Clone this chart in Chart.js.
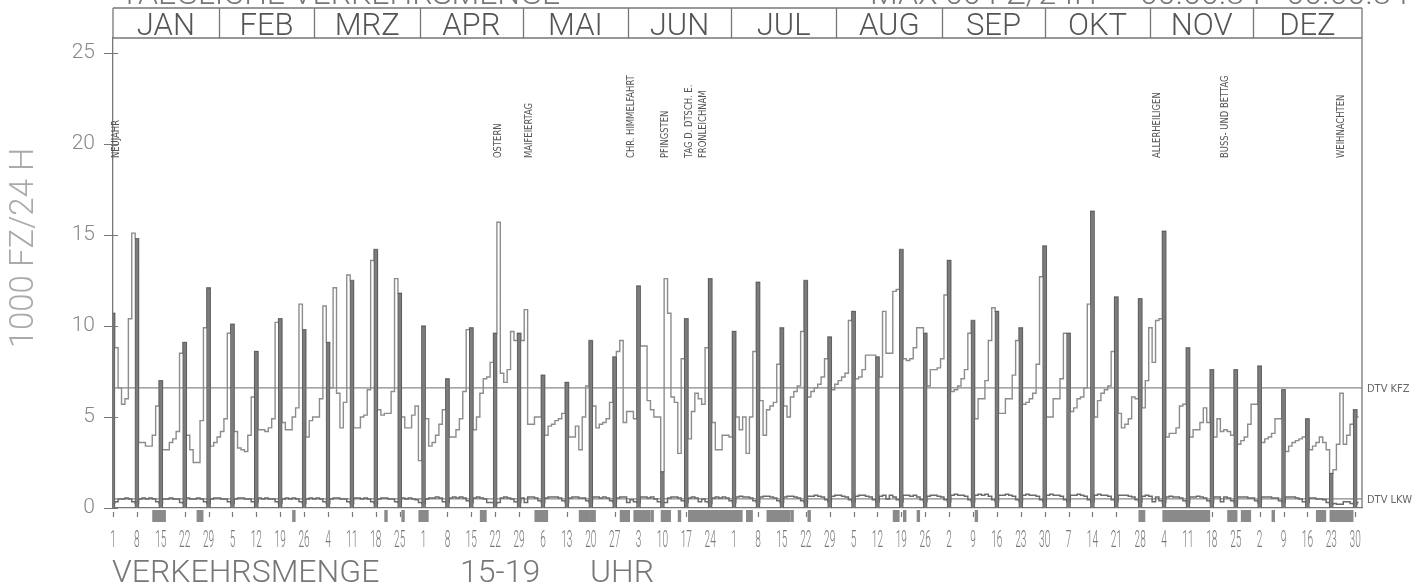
<!DOCTYPE html>
<html>
<head>
<meta charset="utf-8">
<script src="https://cdn.jsdelivr.net/npm/chart.js@4"></script>
<style>
  html, body { margin: 0; background: #fff; }
  canvas { display: block; }
</style>
</head>
<body>
<canvas id="chart" width="1414" height="584"></canvas>
<script>
// Daily traffic 1984, 15-19 h, in 1000 vehicles. Day 0 = Sunday, 1 Jan.
const kfzJan = [10.7, 8.8, 6.6, 5.7, 6.0, 10.4, 15.1, 14.8, 3.6, 3.6, 3.4, 3.4, 4.0, 5.6, 7.0, 3.2, 3.2, 3.6, 3.8, 4.2, 8.5, 9.1, 4.0, 3.2, 2.5, 2.5, 4.8, 9.9, 12.1, 3.4, 3.6];
const kfzFeb = [3.9, 4.2, 4.9, 9.6, 10.1, 4.2, 3.3, 3.2, 3.1, 4.0, 6.1, 8.6, 4.3, 4.3, 4.2, 4.4, 4.9, 10.2, 10.4, 4.7, 4.3, 4.3, 5.0, 5.5, 11.2, 9.8, 3.9, 4.8, 5.0];
const kfzMar = [5.0, 6.0, 11.1, 9.1, 6.6, 12.1, 6.3, 4.4, 5.8, 12.8, 12.5, 4.4, 4.4, 5.0, 5.1, 6.5, 13.6, 14.2, 5.4, 5.1, 5.2, 5.2, 6.4, 12.6, 11.8, 5.0, 4.4, 4.4, 5.1, 5.6, 2.6];
const kfzApr = [10.0, 4.9, 3.4, 3.6, 4.0, 4.6, 5.4, 7.1, 3.9, 3.9, 4.3, 4.9, 6.4, 9.8, 9.9, 4.3, 5.0, 6.3, 7.1, 7.2, 8.0, 9.6, 15.7, 7.4, 6.9, 7.6, 9.7, 9.2, 9.6, 9.2];
const kfzMai = [10.9, 4.6, 4.6, 5.0, 5.0, 7.3, 4.0, 4.5, 4.6, 4.8, 4.9, 5.2, 6.9, 3.9, 3.9, 4.5, 3.2, 5.0, 6.7, 9.2, 5.6, 4.4, 4.6, 4.7, 4.9, 5.8, 8.3, 8.6, 9.2, 4.7, 5.3];
const kfzJun = [5.3, 4.9, 12.2, 8.9, 8.9, 5.9, 5.4, 5.0, 5.0, 2.0, 12.6, 10.7, 6.1, 5.8, 3.0, 8.2, 10.4, 3.8, 5.3, 6.3, 6.0, 5.7, 8.8, 12.6, 4.7, 3.2, 3.2, 4.0, 4.0, 3.9];
const kfzJul = [9.7, 5.0, 4.3, 5.0, 3.0, 5.0, 8.6, 12.4, 5.9, 4.0, 5.4, 5.6, 5.8, 7.9, 9.9, 5.6, 5.0, 6.1, 6.4, 6.7, 9.7, 12.5, 6.1, 6.4, 6.6, 6.8, 7.2, 8.2, 9.4, 6.5, 6.8];
const kfzAug = [7.0, 7.2, 7.4, 10.3, 10.8, 7.1, 7.2, 7.6, 8.4, 8.4, 8.4, 8.3, 7.2, 10.8, 8.5, 8.5, 11.9, 12.0, 14.2, 8.2, 8.1, 8.2, 8.8, 9.9, 9.9, 9.6, 6.7, 7.6, 7.6, 7.7, 8.2];
const kfzSep = [11.7, 13.6, 6.4, 6.5, 6.7, 7.1, 7.6, 9.6, 10.3, 4.9, 6.0, 6.0, 7.0, 9.2, 11.0, 10.8, 5.2, 5.2, 6.0, 6.0, 7.3, 9.2, 9.9, 5.7, 5.8, 6.0, 6.3, 7.9, 12.7, 14.4];
const kfzOkt = [5.0, 5.0, 6.0, 6.0, 7.1, 9.6, 9.6, 5.3, 5.5, 6.0, 6.1, 6.6, 11.2, 16.3, 5.0, 5.9, 6.3, 6.5, 6.7, 8.6, 11.6, 5.2, 4.4, 4.6, 4.9, 6.1, 6.0, 11.5, 5.5, 7.0, 9.9];
const kfzNov = [8.0, 10.3, 10.4, 15.2, 3.9, 4.1, 4.1, 4.4, 5.6, 5.7, 8.8, 3.9, 4.3, 4.3, 4.7, 5.5, 4.7, 7.6, 3.9, 4.9, 4.2, 4.3, 4.2, 4.0, 7.6, 3.5, 3.7, 3.9, 4.6, 5.7];
const kfzDez = [5.7, 7.8, 3.6, 3.8, 3.9, 4.1, 4.9, 4.9, 6.5, 3.1, 3.4, 3.6, 3.7, 3.8, 3.9, 4.9, 3.2, 3.4, 3.6, 3.9, 3.6, 3.2, 1.9, 2.1, 3.5, 6.3, 3.5, 4.0, 4.6, 5.4, 5.0];

const lkwJan = [0.25, 0.35, 0.5, 0.5, 0.55, 0.5, 0.35, 0.25, 0.5, 0.55, 0.5, 0.55, 0.5, 0.35, 0.25, 0.5, 0.5, 0.55, 0.5, 0.5, 0.3, 0.25, 0.55, 0.5, 0.5, 0.55, 0.5, 0.35, 0.25, 0.5, 0.55];
const lkwFeb = [0.55, 0.5, 0.5, 0.35, 0.25, 0.5, 0.55, 0.55, 0.5, 0.5, 0.35, 0.3, 0.55, 0.5, 0.55, 0.5, 0.5, 0.35, 0.25, 0.5, 0.55, 0.5, 0.55, 0.5, 0.35, 0.25, 0.5, 0.55, 0.5];
const lkwMar = [0.55, 0.5, 0.35, 0.25, 0.5, 0.55, 0.55, 0.5, 0.5, 0.35, 0.25, 0.55, 0.55, 0.5, 0.55, 0.5, 0.35, 0.25, 0.5, 0.55, 0.55, 0.5, 0.5, 0.35, 0.3, 0.55, 0.5, 0.55, 0.5, 0.45, 0.3];
const lkwApr = [0.25, 0.5, 0.55, 0.55, 0.6, 0.55, 0.35, 0.3, 0.55, 0.6, 0.55, 0.6, 0.55, 0.4, 0.3, 0.55, 0.6, 0.55, 0.5, 0.3, 0.3, 0.25, 0.3, 0.55, 0.6, 0.55, 0.5, 0.35, 0.3, 0.55];
const lkwMai = [0.3, 0.6, 0.6, 0.55, 0.4, 0.3, 0.55, 0.6, 0.6, 0.6, 0.55, 0.4, 0.3, 0.55, 0.6, 0.6, 0.55, 0.55, 0.4, 0.3, 0.6, 0.6, 0.55, 0.6, 0.55, 0.4, 0.3, 0.55, 0.6, 0.6, 0.3];
const lkwJun = [0.45, 0.35, 0.3, 0.6, 0.6, 0.55, 0.6, 0.5, 0.35, 0.3, 0.3, 0.55, 0.6, 0.6, 0.55, 0.4, 0.3, 0.55, 0.6, 0.55, 0.35, 0.5, 0.35, 0.25, 0.55, 0.6, 0.55, 0.6, 0.55, 0.4];
const lkwJul = [0.3, 0.6, 0.65, 0.6, 0.6, 0.55, 0.4, 0.3, 0.6, 0.65, 0.65, 0.6, 0.55, 0.4, 0.3, 0.6, 0.65, 0.65, 0.6, 0.55, 0.4, 0.3, 0.65, 0.65, 0.7, 0.65, 0.6, 0.45, 0.35, 0.65, 0.7];
const lkwAug = [0.7, 0.65, 0.6, 0.45, 0.35, 0.65, 0.7, 0.7, 0.65, 0.6, 0.45, 0.35, 0.65, 0.7, 0.5, 0.7, 0.6, 0.45, 0.35, 0.7, 0.7, 0.65, 0.7, 0.6, 0.45, 0.35, 0.65, 0.7, 0.7, 0.65, 0.6];
const lkwSep = [0.45, 0.35, 0.7, 0.75, 0.7, 0.7, 0.65, 0.45, 0.35, 0.7, 0.75, 0.7, 0.75, 0.65, 0.45, 0.35, 0.7, 0.7, 0.75, 0.7, 0.65, 0.45, 0.35, 0.7, 0.75, 0.7, 0.7, 0.65, 0.45, 0.35];
const lkwOkt = [0.7, 0.75, 0.7, 0.7, 0.65, 0.45, 0.35, 0.7, 0.7, 0.75, 0.7, 0.65, 0.45, 0.35, 0.7, 0.75, 0.7, 0.7, 0.65, 0.45, 0.35, 0.7, 0.7, 0.7, 0.65, 0.6, 0.45, 0.35, 0.65, 0.7, 0.65];
const lkwNov = [0.35, 0.6, 0.4, 0.3, 0.6, 0.65, 0.6, 0.6, 0.55, 0.4, 0.3, 0.6, 0.6, 0.65, 0.6, 0.55, 0.4, 0.3, 0.6, 0.6, 0.35, 0.6, 0.55, 0.4, 0.3, 0.6, 0.6, 0.6, 0.55, 0.55];
const lkwDez = [0.4, 0.3, 0.6, 0.6, 0.6, 0.55, 0.55, 0.4, 0.3, 0.6, 0.6, 0.6, 0.55, 0.5, 0.35, 0.3, 0.55, 0.55, 0.5, 0.5, 0.45, 0.3, 0.2, 0.25, 0.2, 0.2, 0.35, 0.35, 0.25, 0.2, 0.3];

const dtvKfz = 6.6;
const dtvLkw = 0.5;

const sundayLabels = ['1', '8', '15', '22', '29', '5', '12', '19', '26', '4', '11', '18', '25',
  '1', '8', '15', '22', '29', '6', '13', '20', '27', '3', '10', '17', '24',
  '1', '8', '15', '22', '29', '5', '12', '19', '26', '2', '9', '16', '23', '30',
  '7', '14', '21', '28', '4', '11', '18', '25', '2', '9', '16', '23', '30'];
const yTicks = [0, 5, 10, 15, 20, 25];

const monthNames = ['JAN', 'FEB', 'MRZ', 'APR', 'MAI', 'JUN', 'JUL', 'AUG', 'SEP', 'OKT', 'NOV', 'DEZ'];
// header is laid out for a 365-day year, as in the original print
const monthStarts = [0, 31, 59, 90, 120, 151, 181, 212, 243, 273, 304, 334, 366];

const holidayNames = ['NEUJAHR', 'OSTERN', 'MAIFEIERTAG', 'CHR. HIMMELFAHRT', 'PFINGSTEN', 'TAG D. DTSCH. E.', 'FRONLEICHNAM', 'ALLERHEILIGEN', 'BUSS- UND BETTAG', 'WEIHNACHTEN'];
const holidayDays = [0, 112, 121, 151, 161, 168, 172, 305, 325, 359];

// shaded marks under the axis (day ranges, inclusive)
const markedRanges = [[12, 15], [25, 26], [53, 53], [80, 80], [85, 85], [90, 92], [108, 109], [124, 127],
  [137, 139], [140, 141], [149, 151], [153, 157], [158, 158], [161, 163], [166, 166], [169, 184],
  [186, 187], [192, 198], [199, 199], [204, 204], [229, 230], [232, 232], [236, 236], [253, 253],
  [301, 302], [308, 321], [327, 329], [331, 333], [340, 340], [353, 355], [357, 363]];

const kfz = [].concat(kfzJan, kfzFeb, kfzMar, kfzApr, kfzMai, kfzJun, kfzJul, kfzAug, kfzSep, kfzOkt, kfzNov, kfzDez);
const lkw = [].concat(lkwJan, lkwFeb, lkwMar, lkwApr, lkwMai, lkwJun, lkwJul, lkwAug, lkwSep, lkwOkt, lkwNov, lkwDez);
const sundayDays = sundayLabels.map((_, i) => i * 7);

const INK = '#777';
const HEADER_TOP = 8;

const decor = {
  id: 'decor',
  afterDraw(chart) {
    const { ctx, chartArea: a, scales: { x, y } } = chart;
    ctx.save();

    // header box + right frame
    ctx.strokeStyle = INK;
    ctx.lineWidth = 1.3;
    ctx.beginPath();
    ctx.moveTo(a.left, HEADER_TOP); ctx.lineTo(a.right, HEADER_TOP);
    ctx.moveTo(a.left, a.top); ctx.lineTo(a.right, a.top);
    ctx.moveTo(a.left, HEADER_TOP); ctx.lineTo(a.left, a.top);
    ctx.moveTo(a.right, HEADER_TOP); ctx.lineTo(a.right, a.bottom);
    monthStarts.slice(1, 12).forEach((d) => {
      const px = Math.round(x.getPixelForValue(d)) + 0.5;
      ctx.moveTo(px, HEADER_TOP); ctx.lineTo(px, a.top);
    });
    ctx.stroke();

    ctx.fillStyle = '#555';
    ctx.font = '300 31px Roboto, "DejaVu Sans", sans-serif';
    ctx.textAlign = 'center';
    ctx.textBaseline = 'alphabetic';
    monthNames.forEach((m, i) => {
      const l = x.getPixelForValue(monthStarts[i]);
      const r = i === 11 ? a.right : x.getPixelForValue(monthStarts[i + 1]);
      ctx.fillText(m, (l + r) / 2, 35);
    });

    // y tick crosses
    ctx.strokeStyle = INK;
    ctx.lineWidth = 1.2;
    ctx.beginPath();
    yTicks.forEach((v) => {
      const py = Math.round(y.getPixelForValue(v)) + 0.5;
      ctx.moveTo(a.left - 9, py); ctx.lineTo(a.left + 5, py);
    });
    // little week marks below the axis
    sundayDays.forEach((d) => {
      const px = Math.round(x.getPixelForValue(d)) + 0.5;
      ctx.moveTo(px, a.bottom + 4); ctx.lineTo(px, a.bottom + 9);
    });
    ctx.stroke();

    // shaded day marks under the axis
    const dayW = x.getPixelForValue(1) - x.getPixelForValue(0);
    ctx.fillStyle = '#8a8a8a';
    markedRanges.forEach(([s, e]) => {
      const l = x.getPixelForValue(s) - dayW / 2;
      const r = x.getPixelForValue(e) + dayW / 2;
      ctx.fillRect(l, a.bottom + 2, r - l, 12);
    });

    // week labels, narrow plotter style
    ctx.fillStyle = '#777';
    ctx.font = '300 24px Roboto, "DejaVu Sans", sans-serif';
    ctx.textAlign = 'center';
    ctx.textBaseline = 'alphabetic';
    sundayDays.forEach((d, i) => {
      ctx.save();
      ctx.translate(x.getPixelForValue(d), 547);
      ctx.scale(0.42, 1);
      ctx.fillText(sundayLabels[i], 0, 0);
      ctx.restore();
    });

    // holiday labels, written upwards
    ctx.fillStyle = '#555';
    ctx.font = '11px "DejaVu Sans Condensed", "DejaVu Sans", sans-serif';
    ctx.textAlign = 'left';
    ctx.textBaseline = 'middle';
    holidayNames.forEach((name, i) => {
      ctx.save();
      ctx.translate(x.getPixelForValue(holidayDays[i]) + 3, 158);
      ctx.rotate(-Math.PI / 2);
      ctx.scale(0.85, 1);
      ctx.fillText(name, 0, 0);
      ctx.restore();
    });

    // DTV labels on the right
    ctx.fillStyle = '#666';
    ctx.font = '11px "DejaVu Sans Condensed", "DejaVu Sans", sans-serif';
    ctx.fillText('DTV KFZ', a.right + 5, y.getPixelForValue(dtvKfz) + 1);
    ctx.fillText('DTV LKW', a.right + 5, y.getPixelForValue(dtvLkw) + 1);

    // y axis title
    ctx.save();
    ctx.fillStyle = '#aaa';
    ctx.font = '300 33px Roboto, "DejaVu Sans", sans-serif';
    ctx.textAlign = 'center';
    ctx.textBaseline = 'middle';
    ctx.translate(25, 248);
    ctx.rotate(-Math.PI / 2);
    ctx.fillText('1000 FZ/24 H', 0, 0);
    ctx.restore();

    // titles (top one is cut by the page edge)
    ctx.fillStyle = '#777';
    ctx.font = '300 32px Roboto, "DejaVu Sans", sans-serif';
    ctx.textAlign = 'left';
    ctx.textBaseline = 'alphabetic';
    ctx.fillText('VERKEHRSMENGE', 112, 582);
    ctx.fillText('15-19', 460, 582);
    ctx.fillText('UHR', 590, 582);
    ctx.fillText('TAEGLICHE VERKEHRSMENGE', 120, 4);
    ctx.fillText('MAX 00 FZ/24H', 870, 4);
    ctx.fillText('00.00.84 - 00.00.84', 1140, 4);

    ctx.restore();
  },
};

new Chart(document.getElementById('chart'), {
  data: {
    datasets: [
      {
        type: 'bar',
        data: sundayDays.map((d) => ({ x: d, y: kfz[d] })),
        backgroundColor: '#7c7c7c',
        borderColor: '#5e5e5e',
        borderWidth: 1,
        barThickness: 4,
        grouped: false,
        order: 1,
      },
      {
        type: 'line',
        data: kfz.map((v, i) => ({ x: i, y: v })),
        stepped: 'middle',
        borderColor: '#8c8c8c',
        borderWidth: 1.4,
        pointRadius: 0,
        order: 2,
      },
      {
        type: 'line',
        data: lkw.map((v, i) => ({ x: i, y: v })),
        stepped: 'middle',
        borderColor: '#6a6a6a',
        borderWidth: 1.5,
        pointRadius: 0,
        order: 3,
      },
      {
        type: 'line',
        data: [{ x: 0, y: dtvKfz }, { x: 366, y: dtvKfz }],
        borderColor: '#888',
        borderWidth: 1.2,
        pointRadius: 0,
        order: 4,
      },
      {
        type: 'line',
        data: [{ x: 0, y: dtvLkw }, { x: 366, y: dtvLkw }],
        borderColor: '#888',
        borderWidth: 1.2,
        pointRadius: 0,
        order: 4,
      },
    ],
  },
  options: {
    responsive: false,
    animation: false,
    devicePixelRatio: 1,
    layout: { padding: { top: 38, right: 52, left: 0, bottom: 0 } },
    plugins: { legend: { display: false }, tooltip: { enabled: false } },
    scales: {
      x: {
        type: 'linear',
        min: 0,
        max: 366,
        offset: false,
        grid: { display: false, drawTicks: false, offset: false },
        border: { color: INK, width: 1.3 },
        ticks: { display: false },
        afterFit(scale) { scale.height = 76; },
      },
      y: {
        min: 0,
        max: 25.82,
        afterBuildTicks(scale) { scale.ticks = yTicks.map((v) => ({ value: v })); },
        grid: { display: false, drawTicks: false },
        border: { color: INK, width: 1.3 },
        ticks: {
          color: '#888',
          padding: 18,
          font: { family: 'Roboto, "DejaVu Sans", sans-serif', size: 21, weight: '300' },
        },
        afterFit(scale) { scale.width = 113; },
      },
    },
  },
  plugins: [decor],
});
</script>
